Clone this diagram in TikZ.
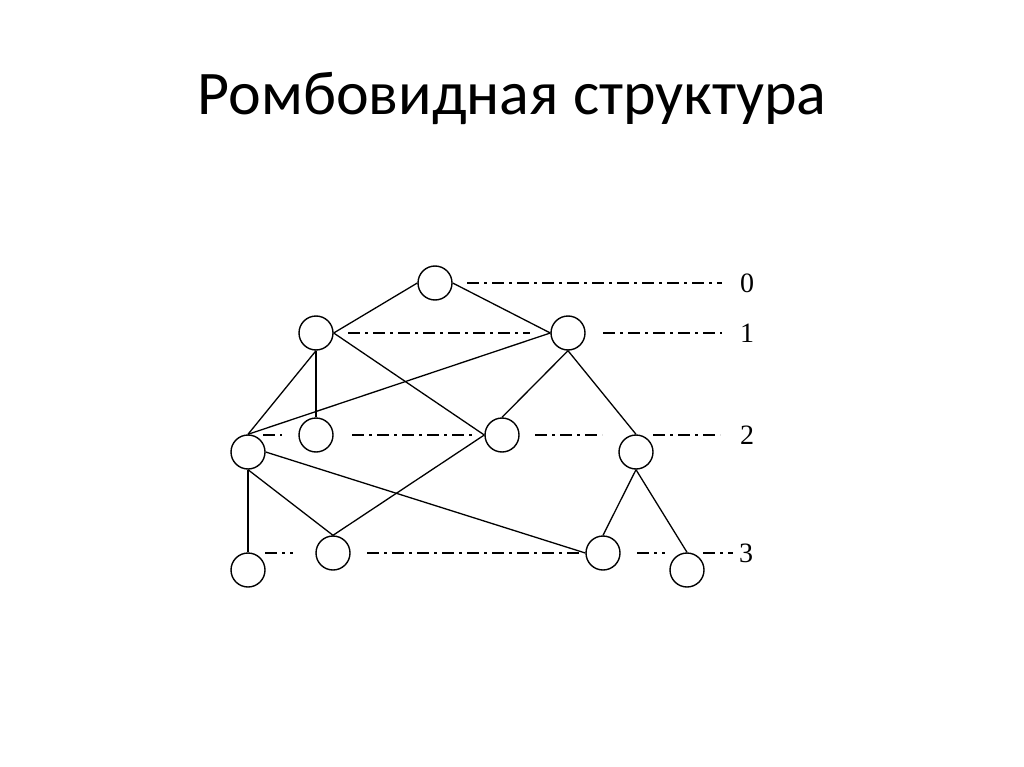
\documentclass[tikz,border=0pt]{standalone}
\usepackage{fontspec}
\setmainfont{Carlito}
\newfontfamily\digitfont{Liberation Serif}
\begin{document}
\begin{tikzpicture}[x=1pt,y=-1pt,
  vtx/.style={circle,draw,line width=1.4pt,minimum size=34pt,inner sep=0pt},
  edge/.style={line width=1.3pt},
  level/.style={line width=1.4pt,dash pattern=on 12pt off 5pt on 3pt off 5pt},
  lvllabel/.style={font=\digitfont\fontsize{28}{28}\selectfont,inner sep=0pt}]
\useasboundingbox (0,0) rectangle (1024,767);
\node[font=\fontsize{62}{62}\selectfont,inner sep=0pt] (title) at (512,98) {Ромбовидная структура};
% vertices
\node[vtx] (A) at (435,283) {};
\node[vtx] (B) at (316,333) {};
\node[vtx] (C) at (568,333) {};
\node[vtx] (D) at (248,452) {};
\node[vtx] (E) at (316,435) {};
\node[vtx] (F) at (502,435) {};
\node[vtx] (G) at (636,452) {};
\node[vtx] (H) at (248,570) {};
\node[vtx] (I) at (333,553) {};
\node[vtx] (J) at (603,553) {};
\node[vtx] (K) at (687,570) {};
% edges
\draw[edge] (B.east) -- (A.west);
\draw[edge] (A.east) -- (C.west);
\draw[edge] (B.south) -- (E.north);
\draw[edge] (B.south) -- (D.north);
\draw[edge] (B.east) -- (F.west);
\draw[edge] (C.west) -- (D.north);
\draw[edge] (C.south) -- (F.north);
\draw[edge] (C.south) -- (G.north);
\draw[edge] (D.south) -- (I.north);
\draw[edge] (D.south) -- (H.north);
\draw[edge] (D.east) -- (J.west);
\draw[edge] (F.west) -- (I.north);
\draw[edge] (G.south) -- (J.north);
\draw[edge] (G.south) -- (K.north);
% level lines
\draw[level] (467,283) -- (722,283);
\draw[level] (348,333) -- (530,333);
\draw[level] (603,333) -- (722,333);
\draw[level] (263,435) -- (282,435);
\draw[level] (352,435) -- (473,435);
\draw[level] (535,435) -- (602,435);
\draw[level] (653,435) -- (720,435);
\draw[level] (265,553) -- (293,553);
\draw[level] (367,553) -- (583,553);
\draw[level] (637,553) -- (665,553);
\draw[level] (703,553) -- (733,553);
% labels
\node[lvllabel] (l0) at (747,283) {0};
\node[lvllabel] (l1) at (747,333) {1};
\node[lvllabel] (l2) at (747,435) {2};
\node[lvllabel] (l3) at (746,553) {3};
\end{tikzpicture}
\end{document}
